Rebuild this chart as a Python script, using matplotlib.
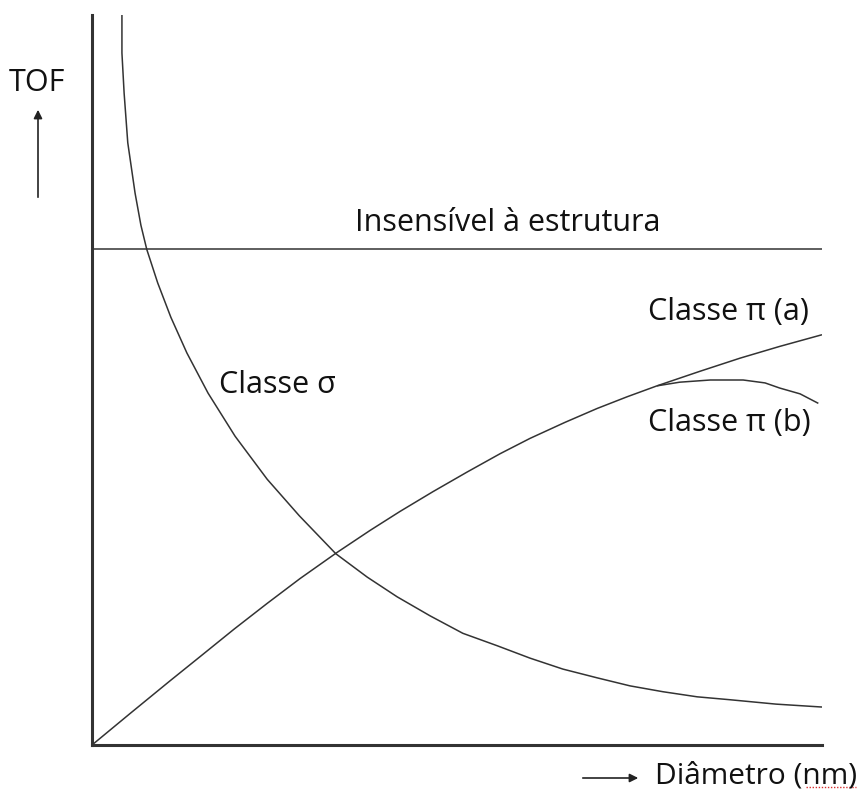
import matplotlib
matplotlib.use("Agg")
import matplotlib.pyplot as plt
from matplotlib.patches import FancyArrowPatch
from matplotlib.lines import Line2D

# Data (arbitrary units)
sigma_x = [0.41, 0.41, 0.44, 0.49, 0.59, 0.67, 0.75, 0.90, 1.08, 1.30, 1.59, 1.96,
           2.40, 2.84, 3.34, 3.77, 4.18, 4.63, 5.08, 5.55, 6.00, 6.45, 6.92,
           7.37, 7.82, 8.29, 8.74, 9.37, 10.00]
sigma_y = [10.00, 9.48, 8.93, 8.25, 7.56, 7.12, 6.79, 6.33, 5.86, 5.37, 4.82, 4.23,
           3.64, 3.14, 2.62, 2.30, 2.03, 1.77, 1.53, 1.36, 1.19, 1.04, 0.92,
           0.81, 0.73, 0.66, 0.62, 0.56, 0.52]
pia_x = [0.00, 0.52, 1.07, 1.48, 1.95, 2.40, 2.85, 3.36, 3.81, 4.22, 4.67, 5.14,
         5.59, 6.00, 6.48, 6.92, 7.33, 7.74, 8.33, 8.88, 9.42, 10.00]
pia_y = [0.00, 0.43, 0.88, 1.21, 1.59, 1.94, 2.28, 2.64, 2.94, 3.20, 3.47, 3.74,
         3.99, 4.20, 4.42, 4.61, 4.77, 4.92, 5.12, 5.30, 5.46, 5.62]
pib_x = [7.74, 8.05, 8.47, 8.92, 9.22, 9.42, 9.70, 9.95]
pib_y = [4.92, 4.97, 5.00, 5.00, 4.96, 4.89, 4.81, 4.68]
insens_x = [0.0, 10.0]
insens_y = [6.79, 6.79]

W, H = 866, 789
fig = plt.figure(figsize=(W / 100, H / 100), dpi=100)
ax = fig.add_axes([92 / W, (H - 745) / H, (822 - 92) / W, (745 - 15) / H])
ax.set_xlim(0, 10)
ax.set_ylim(0, 10)

lc = "#333333"
for xs, ys in [(insens_x, insens_y), (sigma_x, sigma_y), (pia_x, pia_y), (pib_x, pib_y)]:
    ax.plot(xs, ys, color=lc, lw=1.1, solid_joinstyle="round", solid_capstyle="butt")

for s in ["top", "right"]:
    ax.spines[s].set_visible(False)
for s in ["left", "bottom"]:
    ax.spines[s].set_linewidth(2.2)
    ax.spines[s].set_color("#333333")
ax.set_xticks([])
ax.set_yticks([])

fam = ["Open Sans", "DejaVu Sans"]
fs = 22
tc = "#111111"
ax.text(5.69, 7.15, "Insensível à estrutura", ha="center", va="center",
        fontsize=fs, family=fam, color=tc)
ax.text(8.72, 5.93, "Classe π (a)", ha="center", va="center",
        fontsize=fs, family=fam, color=tc)
ax.text(8.73, 4.41, "Classe π (b)", ha="center", va="center",
        fontsize=fs, family=fam, color=tc)
ax.text(2.54, 4.93, "Classe σ", ha="center", va="center",
        fontsize=fs, family=fam, color=tc)

# Axis labels with arrows (figure coordinates)
fig.text(37 / W, 1 - 83 / H, "TOF", ha="center", va="center",
         fontsize=fs, family=fam, color=tc)
fig.text(857 / W, 1 - 776 / H, "Diâmetro (nm)", ha="right", va="center",
         fontsize=21.5, family=fam, color=tc)
fig.add_artist(FancyArrowPatch(
    (38 / W, 1 - 200 / H), (38 / W, 1 - 107 / H), transform=fig.transFigure,
    arrowstyle="-|>,head_length=5,head_width=2.5", color="#222222", lw=1.2,
    mutation_scale=1))
fig.add_artist(FancyArrowPatch(
    (580 / W, 1 - 778 / H), (641 / W, 1 - 778 / H), transform=fig.transFigure,
    arrowstyle="-|>,head_length=5,head_width=2.5", color="#222222", lw=1.2,
    mutation_scale=1))
# red spell-check squiggle under "nm"
fig.add_artist(Line2D([806 / W, 856 / W], [1 - 787 / H, 1 - 787 / H],
               transform=fig.transFigure, color="#d83030", lw=1.0, ls=(0, (1, 1.2))))

fig.savefig("out.png", dpi=100)
